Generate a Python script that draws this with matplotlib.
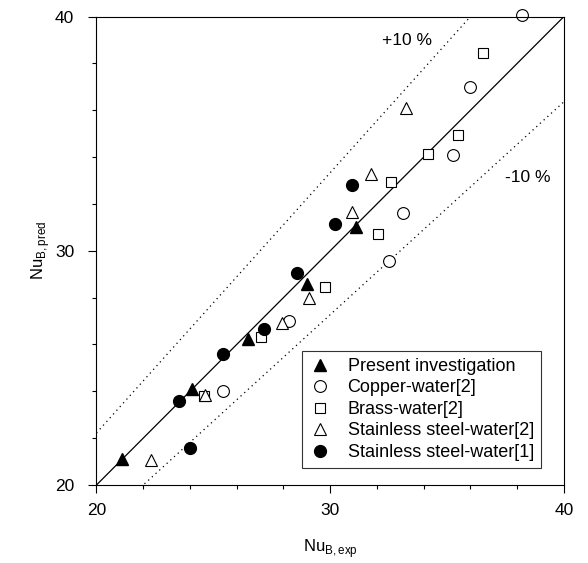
import numpy as np
import matplotlib
matplotlib.use("Agg")
import matplotlib.pyplot as plt

plt.rcParams['font.family'] = ['Liberation Sans', 'DejaVu Sans']
plt.rcParams['mathtext.fontset'] = 'custom'
plt.rcParams['mathtext.rm'] = 'Liberation Sans'

# --- data (Nu_B,exp, Nu_B,pred) ---
present_x = [21.1, 24.1, 26.5, 29.0, 31.1]
present_y = [21.1, 24.1, 26.25, 28.6, 31.0]

copper_x = [38.2, 36.0, 35.25, 33.1, 32.5, 28.25, 25.4]
copper_y = [40.05, 37.0, 34.1, 31.6, 29.55, 27.0, 24.0]

brass_x = [36.55, 35.45, 34.2, 32.6, 32.05, 29.8, 27.05, 24.6]
brass_y = [38.45, 34.95, 34.15, 32.95, 30.7, 28.45, 26.3, 23.8]

ss2_x = [33.25, 31.75, 30.95, 29.1, 27.95, 24.65, 22.35]
ss2_y = [36.1, 33.3, 31.65, 28.0, 26.9, 23.85, 21.05]

ss1_x = [30.95, 30.2, 28.6, 27.15, 25.4, 23.55, 24.0]
ss1_y = [32.8, 31.15, 29.05, 26.65, 25.6, 23.6, 21.6]

line = np.array([20.0, 40.0])

fig = plt.figure(figsize=(5.88, 5.63), dpi=100)
ax = fig.add_axes([0.164, 0.1385, 0.795, 0.832])

ax.plot(line, line, color='black', lw=0.9)
ax.plot(line, line / 0.9, color='black', lw=0.9, ls=(0, (1, 3)))
ax.plot(line, line / 1.1, color='black', lw=0.9, ls=(0, (1, 3)))

ax.plot(present_x, present_y, '^', ms=8.5, mfc='black', mec='black',
        ls='none', label='Present investigation', clip_on=False)
ax.plot(copper_x, copper_y, 'o', ms=8.5, mfc='white', mec='black', mew=0.8,
        ls='none', label='Copper-water[2]', clip_on=False)
ax.plot(brass_x, brass_y, 's', ms=7.5, mfc='white', mec='black', mew=0.8,
        ls='none', label='Brass-water[2]', clip_on=False)
ax.plot(ss2_x, ss2_y, '^', ms=8.5, mfc='white', mec='black', mew=0.8,
        ls='none', label='Stainless steel-water[2]', clip_on=False)
ax.plot(ss1_x, ss1_y, 'o', ms=8.5, mfc='black', mec='black',
        ls='none', label='Stainless steel-water[1]', clip_on=False)

ax.text(33.3, 39.0, '+10 %', fontsize=12.5, ha='center', va='center')
ax.text(38.45, 33.15, '-10 %', fontsize=12.5, ha='center', va='center')

ax.set_xlim(20, 40)
ax.set_ylim(20, 40)
ax.set_xticks([20, 30, 40])
ax.set_yticks([20, 30, 40])
ax.set_xticks(np.arange(20, 41, 2), minor=True)
ax.set_yticks(np.arange(20, 41, 2), minor=True)
ax.tick_params(which='both', direction='out', top=False, right=False,
               labelsize=12.5, width=0.8)
ax.tick_params(which='major', length=6)
ax.tick_params(axis='x', which='major', pad=7)
ax.tick_params(axis='y', which='major', pad=10)
ax.tick_params(which='minor', length=3)
for s in ax.spines.values():
    s.set_linewidth(0.8)

ax.set_xlabel(r'Nu$_{\mathrm{B,exp}}$', fontsize=12, labelpad=14)
ax.set_ylabel(r'Nu$_{\mathrm{B,pred}}$', fontsize=12, labelpad=2)

leg = ax.legend(loc='lower right', bbox_to_anchor=(0.951, 0.036), fontsize=13,
                frameon=True, fancybox=False, edgecolor='black',
                handletextpad=0.9, borderpad=0.4, labelspacing=0.25,
                handlelength=1.2, borderaxespad=0)
leg.get_frame().set_linewidth(0.8)

fig.savefig('out.png', dpi=100)
